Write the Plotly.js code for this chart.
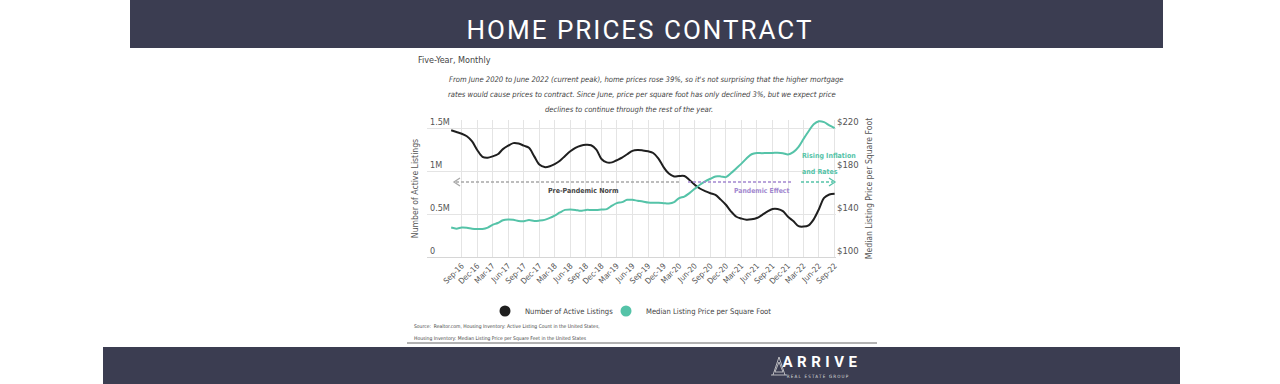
<!DOCTYPE html>
<html><head><meta charset="utf-8">
<script src="https://cdn.plot.ly/plotly-3.0.1.min.js"></script>
<style>
html,body{margin:0;padding:0;background:#fff;}
#chart{width:1280px;height:384px;}
.gtitle{letter-spacing:2px;}
.annotation[data-index="10"] text{letter-spacing:4.5px;}
.annotation[data-index="11"] text{letter-spacing:1.2px;}
</style></head>
<body><div id="chart"></div>
<script>
// Monthly dates, Jul-2016 .. Sep-2022
const months = [
 '2016-07','2016-08','2016-09','2016-10','2016-11','2016-12',
 '2017-01','2017-02','2017-03','2017-04','2017-05','2017-06','2017-07','2017-08','2017-09','2017-10','2017-11','2017-12',
 '2018-01','2018-02','2018-03','2018-04','2018-05','2018-06','2018-07','2018-08','2018-09','2018-10','2018-11','2018-12',
 '2019-01','2019-02','2019-03','2019-04','2019-05','2019-06','2019-07','2019-08','2019-09','2019-10','2019-11','2019-12',
 '2020-01','2020-02','2020-03','2020-04','2020-05','2020-06','2020-07','2020-08','2020-09','2020-10','2020-11','2020-12',
 '2021-01','2021-02','2021-03','2021-04','2021-05','2021-06','2021-07','2021-08','2021-09','2021-10','2021-11','2021-12',
 '2022-01','2022-02','2022-03','2022-04','2022-05','2022-06','2022-07','2022-08','2022-09'
];
// Number of active listings (count)
const activeListings = [
 1480000,1460000,1440000,1410000,1350000,1250000,
 1170000,1160000,1175000,1200000,1260000,1300000,1330000,1325000,1300000,1275000,1175000,1080000,
 1050000,1060000,1085000,1125000,1180000,1235000,1275000,1300000,1310000,1305000,1255000,1145000,
 1105000,1105000,1130000,1160000,1200000,1240000,1250000,1245000,1235000,1215000,1150000,1050000,
 975000,940000,946000,946000,900000,845000,800000,770000,745000,725000,670000,610000,
 530000,470000,450000,435000,440000,455000,490000,530000,560000,560000,535000,470000,
 420000,360000,355000,370000,440000,560000,690000,730000,740000
];
// Median listing price per square foot ($)
const pricePerSqFt = [
 127.5,126.5,127.5,127.3,126.5,126.2,
 126.2,127.5,130.0,131.8,134.3,135.0,134.7,133.7,133.5,134.5,133.7,134.0,
 134.7,136.5,138.7,141.6,144.0,144.4,144.0,143.1,144.0,144.0,144.0,144.4,
 144.7,148.0,150.3,151.3,153.4,153.4,152.6,151.9,150.9,150.6,150.6,150.3,
 150.0,151.3,155.0,156.5,159.7,163.7,167.5,170.6,173.1,175.3,175.3,174.6,
 178.5,183.0,187.0,192.0,196.0,197.2,197.0,197.2,197.2,197.4,197.0,195.8,
 198.0,203.0,210.0,217.5,224.0,226.8,226.0,223.0,220.5
];
const xTickLabels = ['Sep-16','Dec-16','Mar-17','Jun-17','Sep-17','Dec-17','Mar-18','Jun-18','Sep-18','Dec-18',
 'Mar-19','Jun-19','Sep-19','Dec-19','Mar-20','Jun-20','Sep-20','Dec-20','Mar-21','Jun-21','Sep-21','Dec-21',
 'Mar-22','Jun-22','Sep-22'];
const leftTickVals = [0, 500000, 1000000, 1500000];
const leftTickText = ['0', '0.5M', '1M', '1.5M'];
const rightTickVals = [100, 140, 180, 220];
const rightTickText = ['$100', '$140', '$180', '$220'];
const seriesNames = ['Number of Active Listings', 'Median Listing Price per Square Foot'];

const MON = {Jan:'01',Feb:'02',Mar:'03',Apr:'04',May:'05',Jun:'06',Jul:'07',Aug:'08',Sep:'09',Oct:'10',Nov:'11',Dec:'12'};
const xTickVals = xTickLabels.map(s => { const [m, y] = s.split('-'); return '20' + y + '-' + MON[m] + '-01'; });

const NARROW = '"DejaVu Sans Condensed", "Liberation Sans Narrow", sans-serif';
const BLACK = '#1f1f1f', TEAL = '#55c3a8', PURPLE = '#a287cf', GREY = '#555555', NAVY = '#3b3d51';

// pixel -> paper helpers (plot area: x 427..836, y 120..257)
const L = 427, R = 836, T = 120, B = 257;
const xp = X => (X - L) / (R - L);
const yp = Y => (B - Y) / (B - T);

const traces = [
 {x: months, y: activeListings, type: 'scatter', mode: 'lines', name: seriesNames[0],
  line: {color: BLACK, width: 2, shape: 'spline', smoothing: 0.9}, showlegend: false, yaxis: 'y'},
 {x: months, y: pricePerSqFt, type: 'scatter', mode: 'lines', name: seriesNames[1],
  line: {color: TEAL, width: 2, shape: 'spline', smoothing: 0.9}, showlegend: false, yaxis: 'y2'},
 {x: [null], y: [null], type: 'scatter', mode: 'markers', name: seriesNames[0],
  marker: {color: BLACK, size: 11}, showlegend: true, legend: 'legend', yaxis: 'y'},
 {x: [null], y: [null], type: 'scatter', mode: 'markers', name: seriesNames[1],
  marker: {color: TEAL, size: 11}, showlegend: true, legend: 'legend2', yaxis: 'y'}
];

function ann(text, X, Y, opts) {
  return Object.assign({text: text, xref: 'paper', yref: 'paper', x: xp(X), y: yp(Y),
    showarrow: false, xanchor: 'left', yanchor: 'middle',
    font: {family: NARROW, size: 8, color: '#444'}}, opts || {});
}
const SUB = {family: NARROW, size: 7.6, color: '#444'};

const annotations = [
  ann('Five-Year, Monthly', 416, 60, {font: {family: NARROW, size: 9, color: '#444'}}),
  ann('<i>From June 2020 to June 2022 (current peak), home prices rose 39%, so it\'s not surprising that the higher mortgage</i>', 646, 79, {xanchor: 'center', font: SUB}),
  ann('<i>rates would cause prices to contract. Since June, price per square foot has only declined 3%, but we expect price</i>', 642, 94, {xanchor: 'center', font: SUB}),
  ann('<i>declines to continue through the rest of the year.</i>', 629, 109, {xanchor: 'center', font: SUB}),
  ann('<b>Pre-Pandemic Norm</b>', 583, 191, {xanchor: 'center', font: {family: NARROW, size: 7, color: '#444'}}),
  ann('<b>Pandemic Effect</b>', 761, 191, {xanchor: 'center', font: {family: NARROW, size: 6.8, color: PURPLE}}),
  ann('<b>Rising Inflation</b>', 800, 156, {font: {family: NARROW, size: 7, color: TEAL}}),
  ann('<b>and Rates</b>', 800, 172, {font: {family: NARROW, size: 7, color: TEAL}}),
  ann('Source:  Realtor.com, Housing Inventory: Active Listing Count in the United States,', 412, 326, {font: {family: NARROW, size: 5, color: '#444'}}),
  ann('Housing Inventory: Median Listing Price per Square Feet in the United States', 412, 338, {font: {family: NARROW, size: 5, color: '#444'}}),
  ann('<b>ARRIVE</b>', 794, 362, {font: {family: 'Roboto, "DejaVu Sans", sans-serif', size: 15, color: '#ffffff'}}),
  ann('REAL ESTATE GROUP', 795, 376, {font: {family: NARROW, size: 4.5, color: '#dddddd'}})
];

function hline(X0, X1, Y, color, dash, width) {
  return {type: 'line', xref: 'paper', yref: 'paper', x0: xp(X0), x1: xp(X1), y0: yp(Y), y1: yp(Y),
    line: {color: color, width: width || 1.3, dash: dash || 'solid'}};
}
function path(pts, color, width) {
  const d = pts.map((p, i) => (i ? 'L ' : 'M ') + xp(p[0]) + ',' + yp(p[1])).join(' ');
  return {type: 'path', xref: 'paper', yref: 'paper', path: d,
    line: {color: color, width: width || 1.3}, fillcolor: 'rgba(0,0,0,0)'};
}

const shapes = [
  {type: 'rect', xref: 'paper', yref: 'paper', x0: xp(130), x1: xp(1163), y0: yp(0), y1: yp(48),
   fillcolor: NAVY, line: {width: 0}, layer: 'below'},
  {type: 'rect', xref: 'paper', yref: 'paper', x0: xp(103), x1: xp(1180), y0: yp(347), y1: yp(386),
   fillcolor: NAVY, line: {width: 0}, layer: 'below'},
  hline(407, 877, 343, '#666666', 'solid', 1),
  hline(456, 679, 182, '#a8a8a8', '3px,2px'),
  path([[460, 178], [454, 182], [460, 186]], '#a8a8a8', 1.3),
  hline(688, 793, 182, PURPLE, '3px,2px'),
  hline(801, 833, 182, TEAL, '3px,2px'),
  path([[829, 178], [835, 182], [829, 186]], TEAL, 1.3),
  path([[773, 375], [779, 357], [785, 375]], '#d8d8d8', 0.8),
  path([[771, 375], [787, 375]], '#d8d8d8', 0.8),
  path([[775, 372], [779, 362], [783, 372]], '#d8d8d8', 0.8),
  path([[775, 372], [783, 372]], '#d8d8d8', 0.8)
];

const LEGFONT = {family: NARROW, size: 7.6, color: '#444'};
const layout = {
  width: 1280, height: 384,
  margin: {l: L, r: 1280 - R, t: T, b: 384 - B, pad: 0},
  paper_bgcolor: '#ffffff', plot_bgcolor: '#ffffff',
  title: {text: 'HOME PRICES CONTRACT', xref: 'container', yref: 'container', x: 0.5, xanchor: 'center',
    y: 1 - 30 / 384, yanchor: 'middle', font: {family: 'Roboto, "DejaVu Sans", sans-serif', size: 26, color: '#ffffff'}},
  showlegend: true,
  legend: {orientation: 'h', x: xp(490), xanchor: 'left', y: yp(311), yanchor: 'middle', indentation: -5,
    font: LEGFONT, bgcolor: 'rgba(0,0,0,0)', itemclick: false},
  legend2: {orientation: 'h', x: xp(611), xanchor: 'left', y: yp(311), yanchor: 'middle', indentation: -5,
    font: LEGFONT, bgcolor: 'rgba(0,0,0,0)', itemclick: false},
  xaxis: {type: 'date', range: ['2016-02-10', '2022-09-09'], tickvals: xTickVals, ticktext: xTickLabels,
    tickangle: -45, showgrid: true, gridcolor: '#e4e4e4', gridwidth: 1, ticks: '', showline: true,
    linecolor: '#d6d6d6', linewidth: 1, zeroline: false, automargin: false,
    tickfont: {family: NARROW, size: 8, color: GREY}},
  yaxis: {range: [0, 1600000], tickvals: leftTickVals, ticktext: leftTickText, ticklabelposition: 'inside top',
    ticklabeloverflow: 'allow',
    showgrid: true, gridcolor: '#e4e4e4', zeroline: false, showline: false, ticks: '', automargin: false,
    tickfont: {family: NARROW, size: 9, color: GREY},
    title: {text: 'Number of Active Listings', standoff: 9, font: {family: NARROW, size: 8.6, color: GREY}}},
  yaxis2: {range: [100, 228], overlaying: 'y', side: 'right', tickvals: rightTickVals, ticktext: rightTickText,
    ticklabelposition: 'outside top', ticklabeloverflow: 'allow',
    showgrid: false, zeroline: false, showline: false, ticks: '', automargin: false,
    tickfont: {family: NARROW, size: 9.5, color: GREY},
    title: {text: 'Median Listing Price per Square Foot', standoff: 8, font: {family: NARROW, size: 8.6, color: GREY}}},
  annotations: annotations,
  shapes: shapes
};

Plotly.newPlot('chart', traces, layout, {displayModeBar: false, staticPlot: true});
</script>
</body></html>
